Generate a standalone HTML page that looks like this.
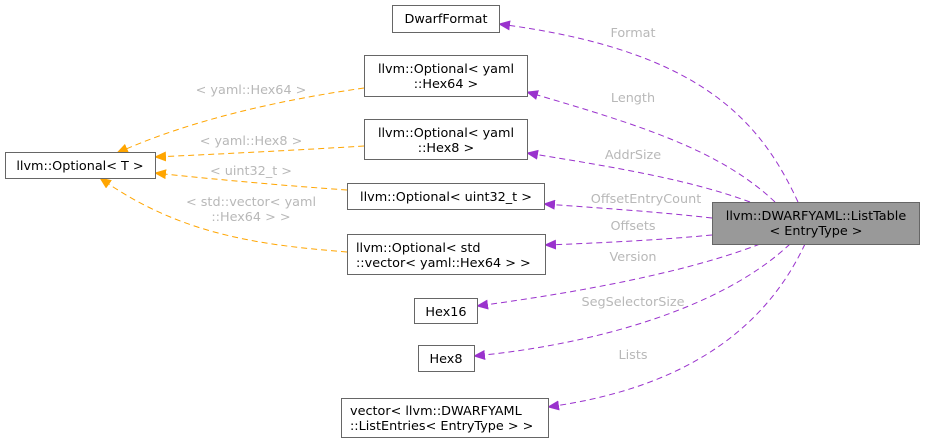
<!DOCTYPE html>
<html><head><meta charset="utf-8"><style>
html,body{margin:0;padding:0;background:#fff;}
svg{display:block;}
text{font-family:"DejaVu Sans","Liberation Sans",sans-serif;font-size:12.8px;}
.n{fill:#fff;stroke:#666;stroke-width:1;}
.t{fill:#000;text-anchor:middle;}
.l{fill:#b8b8b8;text-anchor:middle;}
.p{fill:none;stroke:#9a32cd;stroke-dasharray:6,4;stroke-width:1;}
.o{fill:none;stroke:#ffa500;stroke-dasharray:6,4;stroke-width:1;}
</style></head><body>
<svg width="925" height="443" viewBox="0 0 925 443" xmlns="http://www.w3.org/2000/svg">
<defs>
<marker id="mp" markerWidth="12" markerHeight="10" refX="11" refY="5" orient="auto" markerUnits="userSpaceOnUse"><path d="M0,0 L12,5 L0,10 z" fill="#9a32cd"/></marker>
<marker id="mo" markerWidth="12" markerHeight="10" refX="11" refY="5" orient="auto" markerUnits="userSpaceOnUse"><path d="M0,0 L12,5 L0,10 z" fill="#ffa500"/></marker>
</defs>
<path class="p" marker-end="url(#mp)" d="M798,202 C760,120 700,50 499,24"/>
<path class="p" marker-end="url(#mp)" d="M775,202 C720,150 640,125 527,92"/>
<path class="p" marker-end="url(#mp)" d="M750,202 C690,180 620,168 527,153"/>
<path class="p" marker-end="url(#mp)" d="M712,218 C660,212 600,208 544,204"/>
<path class="p" marker-end="url(#mp)" d="M712,235 C660,240 600,243 545,245"/>
<path class="p" marker-end="url(#mp)" d="M760,244 C680,275 560,295 477,306"/>
<path class="p" marker-end="url(#mp)" d="M790,244 C720,310 590,345 474,356"/>
<path class="p" marker-end="url(#mp)" d="M805,244 C760,340 670,390 548,407"/>
<path class="o" marker-end="url(#mo)" d="M364,88 C280,100 190,120 117,153"/>
<path class="o" marker-end="url(#mo)" d="M364,146 C300,150 220,154 155,157"/>
<path class="o" marker-end="url(#mo)" d="M347,190 C290,186 220,180 155,173"/>
<path class="o" marker-end="url(#mo)" d="M347,252 C260,245 180,235 100,178"/>
<text class="l" x="633" y="37">Format</text>
<text class="l" x="633" y="102">Length</text>
<text class="l" x="633" y="159">AddrSize</text>
<text class="l" x="646" y="203">OffsetEntryCount</text>
<text class="l" x="633" y="230">Offsets</text>
<text class="l" x="633" y="261">Version</text>
<text class="l" x="633" y="306">SegSelectorSize</text>
<text class="l" x="633" y="359">Lists</text>
<text class="l" x="251" y="94">&lt; yaml::Hex64 &gt;</text>
<text class="l" x="251" y="145">&lt; yaml::Hex8 &gt;</text>
<text class="l" x="251" y="175">&lt; uint32_t &gt;</text>
<text class="l" x="251" y="206">&lt; std::vector&lt; yaml</text>
<text class="l" x="251" y="221">::Hex64 &gt; &gt;</text>
<rect class="n" x="392.5" y="5.5" width="107" height="27"/>
<text class="t" x="446" y="23">DwarfFormat</text>
<rect class="n" x="364.5" y="55.5" width="163" height="41"/>
<text class="t" x="446" y="73">llvm::Optional&lt; yaml</text>
<text class="t" x="446" y="88">::Hex64 &gt;</text>
<rect class="n" x="364.5" y="119.5" width="163" height="40"/>
<text class="t" x="446" y="137">llvm::Optional&lt; yaml</text>
<text class="t" x="446" y="152">::Hex8 &gt;</text>
<rect class="n" x="347.5" y="183.5" width="197" height="26"/>
<text class="t" x="446" y="201">llvm::Optional&lt; uint32_t &gt;</text>
<rect class="n" x="347.5" y="234.5" width="198" height="40"/>
<text x="356" y="252" fill="#000">llvm::Optional&lt; std</text>
<text x="356" y="267" fill="#000">::vector&lt; yaml::Hex64 &gt; &gt;</text>
<rect class="n" x="5.5" y="152.5" width="150" height="26"/>
<text class="t" x="80" y="170">llvm::Optional&lt; T &gt;</text>
<rect x="712.5" y="202.5" width="207" height="42" fill="#999" stroke="#666"/>
<text class="t" x="816" y="220">llvm::DWARFYAML::ListTable</text>
<text class="t" x="816" y="235">&lt; EntryType &gt;</text>
<rect class="n" x="414.5" y="298.5" width="63" height="25"/>
<text class="t" x="446" y="316">Hex16</text>
<rect class="n" x="418.5" y="345.5" width="56" height="26"/>
<text class="t" x="446" y="363">Hex8</text>
<rect class="n" x="341.5" y="398.5" width="207" height="39"/>
<text x="350" y="415" fill="#000">vector&lt; llvm::DWARFYAML</text>
<text x="350" y="430" fill="#000">::ListEntries&lt; EntryType &gt; &gt;</text>
</svg>
</body></html>
